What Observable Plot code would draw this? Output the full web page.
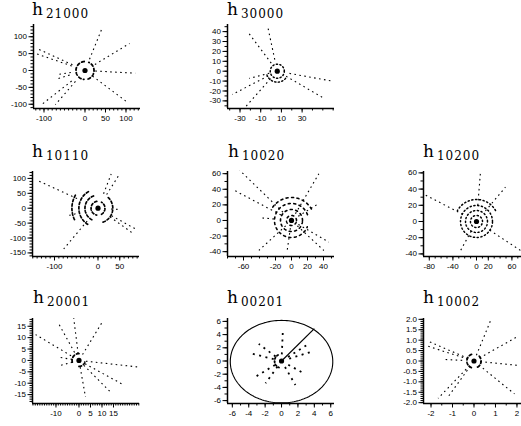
<!DOCTYPE html>
<html><head><meta charset="utf-8">
<script src="https://cdn.jsdelivr.net/npm/d3@7"></script>
<script src="https://cdn.jsdelivr.net/npm/@observablehq/plot@0.6"></script>
<style>
body{margin:0;background:#fff;}
#chart{position:relative;width:521px;height:426px;overflow:hidden;background:#fff;}
#chart svg{position:absolute;left:0;top:0;}
.ttl{position:absolute;font-family:"DejaVu Serif",serif;font-size:17px;line-height:17px;color:#000;white-space:nowrap;}
.ttl span{font-size:12px;letter-spacing:1px;position:relative;top:3px;margin-left:3px;}
</style></head><body><div id="chart"></div>
<script>
// ---------------- data ----------------
const titles = ["21000","30000","10110","10020","10200","20001","00201","10002"];
const centerX = [0, 6, 0, 0, 0, 0, 0, 0];
const centerY = [0, 0, 0, 0, 0, 0, 0, 0];

// rays: [angle (deg), start radius, end radius] in data units
const rays21000 = [[71.6,35,133],[36.4,30,135],[-3.7,25,123],[-42.3,25,137],[-136.3,45,150],[-125.6,40,124],[150.9,35,133],[157.3,35,131],[-170,35,70],[-160,40,75]];
const rays30000 = [[125.7,10,49.7],[101.6,12,45.3],[-10.7,12,54.6],[-31.2,10,50.8],[-151.6,10,49.4],[-130.4,10,49.9],[-165,8,28]];
const rays10110 = [[146.2,58,167],[75.2,50,119],[66.6,50,119.5],[-46.4,40,118.6],[-38.9,40,115],[-120,50,157.6],[-5,30,48],[-160,55,70]];
const rays10020 = [[135.2,15,91],[151.6,15,82.8],[175,22,37],[60.3,10,69],[32.6,10,39.7],[-30.8,10,54.3],[-43.6,10,55.8],[-136.7,10,56],[-98,10,38.9]];
const rays10200 = [[159.3,25,94],[83.7,20,62.4],[40.8,20,64.8],[-25.6,25,82.7],[-127,15,44.8]];
const rays20001 = [[149,4,22],[118.7,4,19.2],[97,3,18.7],[59,3,19.6],[-6.4,3,26.2],[-29,3,22.6],[-45.4,3,19.5],[-80,3,16.3],[171,3,9],[-165,3,8.3]];
const rays00201 = [[88,1,4.6],[137,1,3.8],[163,1,3.75],[21,1,3.8],[38,1,4.2],[-143,1,4],[-120,1,3.9],[-65,1,4],[-34.6,1,3.5]];
const rays10002 = [[68.3,0.3,2.08],[30,0.3,2.4],[-5.9,0.3,2.14],[-40,0.3,2.46],[-133,0.3,2.45],[-125,0.3,2.12],[156,0.3,2.38],[161.7,0.3,2.3],[177,0.55,1.33]];

// inner rings: [radius (x units), from angle, to angle]
const rings21000 = [[22,95,265],[22,-70,65]];
const rings30000 = [[6.8,0,360],[10.6,200,330]];
const rings10110 = [[16,100,260],[16,-60,60],[30,110,250],[34,-70,50],[44,120,240],[60,150,210]];
const rings10020 = [[6.25,0,360],[13.75,0,360],[21.25,20,340],[28.75,30,150]];
const rings10200 = [[10.2,0,360],[18.6,0,360],[27.1,0,360],[37.3,30,150]];
const rings20001 = [[3.0,90,200],[2.6,-90,0]];
const rings00201 = [[0.85,120,250]];
const rings10002 = [[0.33,110,250],[0.33,-60,60]];

// h00201 boundary circle [cx, cy, r] and radius line end
const circle00201 = [0, -0.1, 6.25];
const radius00201 = [4.0, 4.9];

const xTickLabels = [[-100,0,50,100],[-30,-10,10,30],[-100,0,50],[-60,-20,0,20,40],[-80,-40,0,20,60],[-10,0,5,10,15],[-6,-4,-2,0,2,4,6],[-2,-1,0,1,2]];
const yTickLabels = [[-100,-50,0,50,100],[-30,-20,-10,0,10,20,30,40],[-150,-100,-50,0,50,100],[-40,-20,0,20,40,60],[-40,-20,0,20,40,60],[-15,-10,-5,0,5,10,15],[-6,-4,-2,0,2,4,6],[-2,-1.5,-1,-0.5,0,0.5,1,1.5,2]];
const xMinorStep = [10,10,10,10,10,1,1,0.5];
const yMinorStep = [10,5,10,10,10,1,1,0.1];

const allRays = [rays21000,rays30000,rays10110,rays10020,rays10200,rays20001,rays00201,rays10002];
const allRings = [rings21000,rings30000,rings10110,rings10020,rings10200,rings20001,rings00201,rings10002];

// ---------------- layout ----------------
const frames = [[33,24,140,108],[227,24,334,108],[32,171,139,256],[227,171,334,256],[423,171,530,256],[32,318,139,403],[227,318,334,403],[423,318,530,403]];
const xDomains = [[-125.6,135.4],[-42.1,61.3],[-150.6,95.4],[-80,53.75],[-89.8,91.5],[-20.2,26.3],[-6.59,6.46],[-2.35,2.63]];
const yDomains = [[-112.6,136.3],[-37.7,47.2],[-162,123.2],[-46.2,62.8],[-43.2,61.7],[-18.9,18.4],[-6.44,6.44],[-2.04,2.04]];
const titlePos = [[32,1],[227,1],[32,143],[228,143],[423,143],[33,289],[227,289],[423,289]];
const ringStyle = [["2.6,2.6",1.8],["1.2,2.4",1.5],["2.4,2.2",1.7],["2,3.5",1.6],["1.2,2.6",1.5],["2.6,2.4",1.8],["1.5,2.2",1.8],["2.6,2.4",1.8]];
const rayStyle = [["1.6,3.4",1.1],["1.6,3.4",1.1],["1.6,3.4",1.1],["1.6,3.4",1.1],["1.6,3.4",1.1],["1.6,3.4",1.1],["2,4.5",1.8],["1.6,3.4",1.1]];

const chart = document.getElementById("chart");
const rad = Math.PI/180;

titles.forEach((t, i) => {
  const [L,T,R,B] = frames[i];
  const xd = xDomains[i], yd = yDomains[i];
  const cx = centerX[i], cy = centerY[i];
  const kx = (R-L)/(xd[1]-xd[0]), ky = (B-T)/(yd[1]-yd[0]);
  const ratio = kx/ky;

  const rayData = allRays[i].map(([a,r0,r1]) => ({
    x1: cx + r0*Math.cos(a*rad), y1: cy + r0*Math.sin(a*rad),
    x2: cx + r1*Math.cos(a*rad), y2: cy + r1*Math.sin(a*rad)
  }));
  const ringData = [];
  allRings[i].forEach(([r,a0,a1], j) => {
    for (let a = a0; a <= a1 + 1e-9; a += 3) {
      ringData.push({id: j, x: cx + r*Math.cos(a*rad), y: cy + r*ratio*Math.sin(a*rad)});
    }
  });
  const yFmt = i === 7 ? (d => d.toFixed(1)) : (d => String(d));
  const xFmt = d => String(d);
  const xMinor = d3.range(Math.ceil(xd[0]/xMinorStep[i])*xMinorStep[i], xd[1], xMinorStep[i]).map(v => +v.toFixed(4));
  const yMinor = d3.range(Math.ceil(yd[0]/yMinorStep[i])*yMinorStep[i], yd[1], yMinorStep[i]).map(v => +v.toFixed(4));

  const marks = [
    Plot.axisX(xMinor, {tickSize: 2.5, tickFormat: () => ""}),
    Plot.axisX(xTickLabels[i], {tickSize: 4.5, tickPadding: 2, tickFormat: xFmt}),
    Plot.axisY(yMinor, {tickSize: 2.5, tickFormat: () => ""}),
    Plot.axisY(yTickLabels[i], {tickSize: 4.5, tickPadding: 2, tickFormat: yFmt}),
    Plot.ruleX([xd[0]], {strokeWidth: 1.5}),
    Plot.ruleY([yd[0]], {strokeWidth: 1.5}),
    Plot.link(rayData, {x1: "x1", y1: "y1", x2: "x2", y2: "y2", stroke: "black", strokeWidth: rayStyle[i][1], strokeDasharray: rayStyle[i][0]}),
    Plot.line(ringData, {x: "x", y: "y", z: "id", stroke: "black", strokeWidth: ringStyle[i][1], strokeDasharray: ringStyle[i][0]}),
    Plot.dot([[cx, cy]], {x: d => d[0], y: d => d[1], r: 2.6, fill: "black", stroke: null})
  ];
  if (t === "00201") {
    const [ccx, ccy, cr] = circle00201;
    const circ = d3.range(0, 361, 2).map(a => ({x: ccx + cr*Math.cos(a*rad), y: ccy + cr*Math.sin(a*rad)}));
    marks.push(Plot.line(circ, {x: "x", y: "y", stroke: "black", strokeWidth: 1.1}));
    marks.push(Plot.link([{x1: cx, y1: cy, x2: radius00201[0], y2: radius00201[1]}], {x1: "x1", y1: "y1", x2: "x2", y2: "y2", stroke: "black", strokeWidth: 1.2}));
  }

  const svg = Plot.plot({
    width: 521, height: 426,
    marginLeft: L, marginRight: 521 - R, marginTop: T, marginBottom: 426 - B,
    x: {domain: xd},
    y: {domain: yd},
    style: {background: "transparent", fontSize: "8px", fontFamily: "'Liberation Sans', Arial, sans-serif", color: "black", overflow: "visible"},
    marks
  });
  chart.appendChild(svg);

  const div = document.createElement("div");
  div.className = "ttl";
  div.style.left = titlePos[i][0] + "px";
  div.style.top = titlePos[i][1] + "px";
  div.innerHTML = "h<span>" + t + "</span>";
  chart.appendChild(div);
});
</script></body></html>
